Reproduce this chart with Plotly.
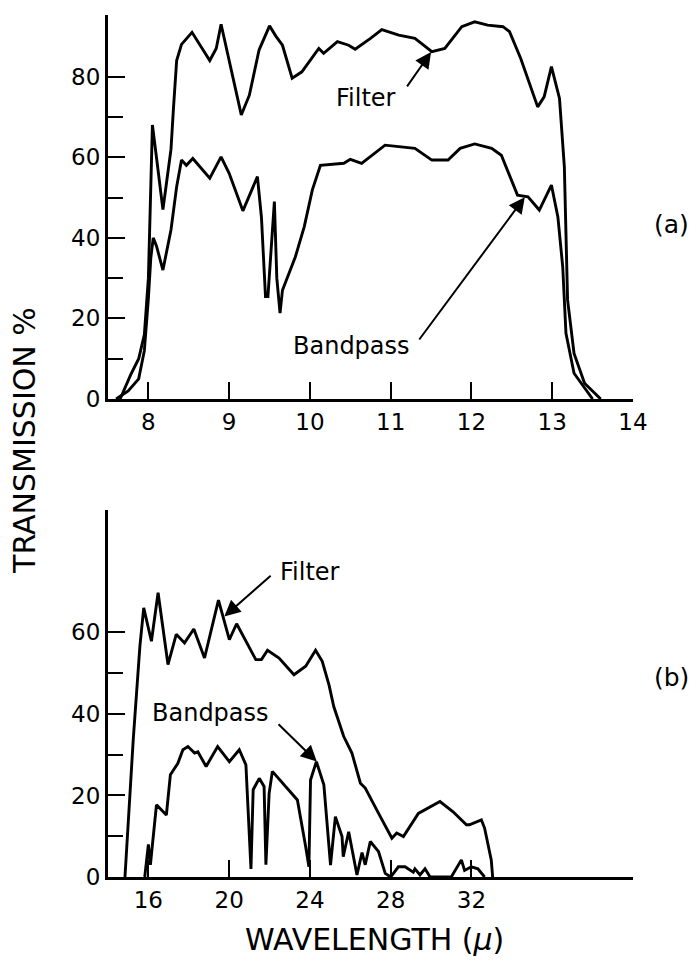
import plotly.graph_objects as go

# ---- (a) 8-14 micron region -------------------------------------------
filt_a_x = [7.65, 7.78, 7.88, 7.95, 8.00, 8.03, 8.05, 8.10, 8.18, 8.22, 8.28, 8.31, 8.35,
            8.41, 8.54, 8.76, 8.84, 8.90, 9.02, 9.15, 9.25, 9.37, 9.50, 9.58, 9.66, 9.78,
            9.90, 10.11, 10.17, 10.34, 10.48, 10.56, 10.75, 10.89, 11.10, 11.30, 11.51,
            11.67, 11.88, 12.04, 12.20, 12.39, 12.47, 12.61, 12.82, 12.90, 12.99, 13.09,
            13.15, 13.19, 13.27, 13.40, 13.60]
filt_a_y = [0, 6, 10, 16, 30, 50, 68, 60, 47, 53, 62, 72, 84,
            88, 91, 84, 87, 93, 82.5, 70.5, 75.4, 86.6, 92.6, 90, 87.8, 79.6,
            81.2, 87, 85.8, 88.7, 87.8, 86.8, 89.5, 91.7, 90.3, 89.5, 86.2,
            87, 92.4, 93.6, 92.8, 92.4, 91.2, 84.5, 72.5, 75, 82.5, 74.6,
            57.6, 24.6, 11.3, 3.9, 0]

band_a_x = [7.60, 7.75, 7.88, 7.95, 8.00, 8.03, 8.06, 8.10, 8.18, 8.28, 8.35, 8.41, 8.47,
            8.55, 8.76, 8.90, 9.00, 9.17, 9.35, 9.40, 9.45, 9.48, 9.56, 9.59, 9.63, 9.66,
            9.82, 9.93, 10.03, 10.13, 10.42, 10.50, 10.64, 10.93, 11.30, 11.51, 11.71,
            11.86, 12.04, 12.25, 12.37, 12.57, 12.70, 12.84, 12.99, 13.07, 13.13, 13.17,
            13.27, 13.50]
band_a_y = [0, 2, 5, 12, 25, 35, 40, 38, 32, 42, 52.7, 59.3, 58,
            59.7, 54.8, 60.1, 56, 46.7, 55.2, 45, 25.4, 25.4, 49, 30, 21.3, 27,
            35.3, 42.8, 51.9, 58, 58.5, 59.5, 58.5, 63, 62.2, 59.3, 59.3,
            62.2, 63.3, 62.2, 60.5, 50.6, 50.2, 46.9, 53.1, 45.2, 32.8, 16.3,
            6.4, 0]

# ---- (b) 14-40 micron region ------------------------------------------
filt_b_x = [14.84, 15.25, 15.58, 15.77, 16.15, 16.48, 16.97, 17.38, 17.79, 18.25, 18.78,
            19.47, 20.01, 20.37, 21.32, 21.60, 21.90, 22.47, 23.21, 23.79, 24.28, 24.61,
            24.95, 25.18, 25.67, 26.08, 26.50, 26.74, 27.40, 28.06, 28.30, 28.63, 29.37,
            30.44, 31.09, 31.75, 31.90, 32.49, 32.65, 32.98, 33.05]
filt_b_y = [0, 33.7, 56.6, 66, 57.8, 69.7, 52.1, 59.5, 57.4, 60.8, 53.7,
            67.9, 58.2, 62.1, 53.3, 53.3, 55.6, 53.7, 49.6, 51.7, 55.6, 52.9,
            47, 41.8, 34.5, 30.4, 23, 21.8, 15.6, 9.5, 10.8, 9.9, 15.6,
            18.5, 16, 12.8, 12.8, 14, 12, 4.2, 0]

band_b_x = [15.82, 16.00, 16.10, 16.40, 16.89, 17.09, 17.46, 17.71, 17.96, 18.29, 18.45,
            18.86, 19.43, 20.01, 20.50, 20.83, 21.08, 21.19, 21.49, 21.73, 21.82, 21.98,
            22.14, 22.80, 23.38, 23.79, 23.95, 24.03, 24.32, 24.69, 25.02, 25.26, 25.59,
            25.65, 25.92, 26.33, 26.58, 26.74, 26.99, 27.40, 27.73, 28.00, 28.38, 28.71,
            29.12, 29.20, 29.45, 29.70, 29.95, 31.00, 31.50, 31.66, 31.99, 32.32, 32.65]
band_b_y = [0, 8, 3, 17.7, 15.2, 25.1, 27.9, 31.2, 32, 30.4, 30.7,
            27.1, 32, 28.3, 31.2, 27.5, 2, 21.4, 24.2, 22.2, 3, 20.5,
            25.9, 22.2, 18.9, 7.4, 2.5, 23.8, 28.3, 22.6, 2.9, 14.8, 9.9,
            5, 11.1, 0.5, 6, 3, 8.7, 6.2, 0.9, 0, 2.5, 2.5,
            1.2, 2, 0.5, 2, 0, 0, 4.2, 1.6, 2.5, 2, 0]

# axis ticks
xticks_a = [8, 9, 10, 11, 12, 13, 14]
xticks_b = [16, 20, 24, 28, 32]
yticks_a = [0, 20, 40, 60, 80]
yminor_a = [10, 30, 50, 70]
yticks_b = [0, 20, 40, 60]
yminor_b = [10, 30, 50]

FONT = "DejaVu Sans"
INK = "black"
LW = 2.9

fig = go.Figure()
for xs, ys, xa, ya in [(filt_a_x, filt_a_y, "x", "y"), (band_a_x, band_a_y, "x", "y"),
                       (filt_b_x, filt_b_y, "x2", "y2"), (band_b_x, band_b_y, "x2", "y2")]:
    fig.add_trace(go.Scatter(x=xs, y=ys, xaxis=xa, yaxis=ya, mode="lines",
                             line=dict(color=INK, width=LW), hoverinfo="skip",
                             showlegend=False))

axis_common = dict(showline=True, linecolor=INK, linewidth=3, ticks="inside",
                   ticklen=17, tickwidth=2.2, tickcolor=INK, showgrid=False,
                   zeroline=False, tickfont=dict(family=FONT, size=23, color=INK))

fig.update_layout(
    width=697, height=961,
    margin=dict(l=108, r=64, t=15, b=84),
    paper_bgcolor="white", plot_bgcolor="white",
    xaxis=dict(domain=[0, 1], anchor="y", range=[7.5, 14], tickmode="array",
               tickvals=xticks_a, **axis_common),
    yaxis=dict(domain=[0.5545, 1.0], anchor="x", range=[0, 95.3], tickmode="array",
               tickvals=yticks_a,
               minor=dict(tickmode="array", tickvals=yminor_a, ticks="inside",
                          ticklen=15, tickwidth=2.2, tickcolor=INK),
               **axis_common),
    xaxis2=dict(domain=[0, 1], anchor="y2", range=[14, 40], tickmode="array",
                tickvals=xticks_b, **axis_common),
    yaxis2=dict(domain=[0, 0.4258], anchor="x2", range=[0, 90], tickmode="array",
                tickvals=yticks_b,
                minor=dict(tickmode="array", tickvals=yminor_b, ticks="inside",
                           ticklen=15, tickwidth=2.2, tickcolor=INK),
                **axis_common),
)

ann = []

def arrow(xr, yr, x, y, ax, ay):
    ann.append(dict(xref=xr, yref=yr, axref=xr, ayref=yr, x=x, y=y, ax=ax, ay=ay,
                    text="", showarrow=True, arrowhead=2, arrowsize=1.6,
                    arrowwidth=2, arrowcolor=INK))

def label(xr, yr, x, y, text, size=24, angle=0):
    ann.append(dict(xref=xr, yref=yr, x=x, y=y, text=text, showarrow=False,
                    xanchor="center", yanchor="middle", textangle=angle,
                    font=dict(family=FONT, size=size, color=INK)))

# panel (a) labels
label("x", "y", 10.69, 74.7, "Filter")
arrow("x", "y", 11.50, 86.1, 11.19, 77.2)
label("x", "y", 10.52, 13.2, "Bandpass")
arrow("x", "y", 12.66, 50.1, 11.34, 14.4)
label("paper", "y", 1.074, 43.2, "(a)", 25)

# panel (b) labels
label("x2", "y2", 24.0, 74.9, "Filter")
arrow("x2", "y2", 19.76, 63.9, 22.13, 74.2)
label("x2", "y2", 19.07, 40.3, "Bandpass")
arrow("x2", "y2", 24.34, 28.3, 22.37, 37.8)
label("paper", "y2", 1.074, 48.9, "(b)", 25)

# shared axis titles
label("paper", "paper", -0.158, 0.506, "TRANSMISSION %", 30, -90)
label("paper", "paper", 0.507, -0.073, "WAVELENGTH (<i>μ</i>)", 30)

fig.update_layout(annotations=ann)
fig.write_html("out.html")
